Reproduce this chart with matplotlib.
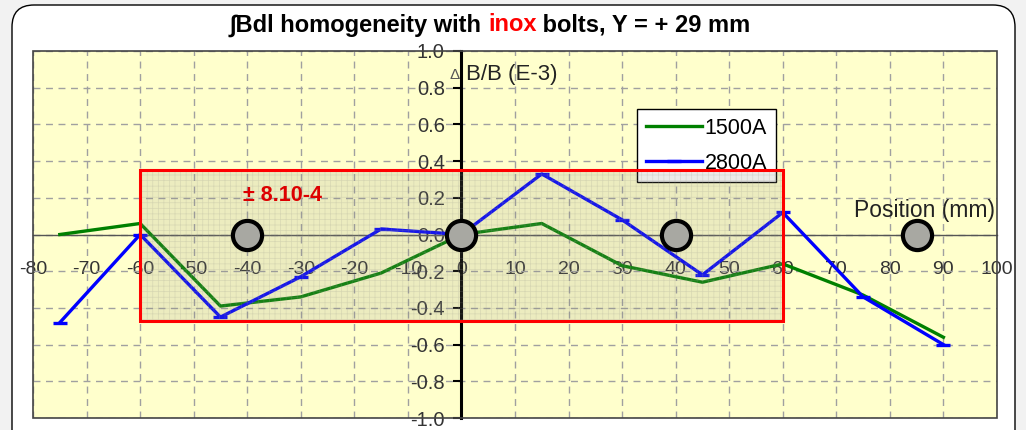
import matplotlib
matplotlib.use("Agg")
import matplotlib.pyplot as plt
from matplotlib.patches import Rectangle, FancyBboxPatch
from matplotlib.transforms import IdentityTransform

plt.rcParams['font.family'] = ['Liberation Sans', 'DejaVu Sans']
plt.rcParams['hatch.linewidth'] = 0.5

# data
position = [-75, -60, -45, -30, -15, 0, 15, 30, 45, 60, 75, 90]
b_1500 = [0.0, 0.06, -0.39, -0.34, -0.21, 0.0, 0.06, -0.17, -0.26, -0.16, -0.33, -0.56]
b_2800 = [-0.48, 0.0, -0.45, -0.23, 0.03, 0.0, 0.33, 0.08, -0.22, 0.12, -0.34, -0.60]
bolt_x = [-40, 0, 40, 85]
bolt_y = [0, 0, 0, 0]
box_x = [-60, 60]
box_y = [-0.47, 0.35]
x_ticks = list(range(-80, 101, 10))
y_ticks = [-1.0, -0.8, -0.6, -0.4, -0.2, 0.0, 0.2, 0.4, 0.6, 0.8, 1.0]

fig = plt.figure(figsize=(10.26, 4.3), dpi=100)
fig.patch.set_facecolor('#f2f2f2')

# rounded white chart area
frame = FancyBboxPatch((12, -30), 1003, 455, boxstyle='round,pad=0,rounding_size=22',
                       transform=IdentityTransform(), facecolor='white', edgecolor='black',
                       linewidth=1.0, zorder=-5)
fig.patches.append(frame)

ax = fig.add_axes([0.0322, 0.0279, 0.9395, 0.8535])
ax.set_facecolor('#ffffcc')
ax.set_xlim(-80, 100)
ax.set_ylim(-1, 1)

# axes crossing at zero
ax.spines['left'].set_position(('data', 0))
ax.spines['left'].set_linewidth(2.2)
ax.spines['left'].set_color('black')
ax.spines['bottom'].set_position(('data', 0))
ax.spines['bottom'].set_linewidth(1.0)
ax.spines['bottom'].set_color('#555555')
ax.spines['top'].set_visible(False)
ax.spines['right'].set_visible(False)
ax.add_patch(Rectangle((0, 0), 1, 1, transform=ax.transAxes, fill=False,
                       edgecolor='#444444', linewidth=1.2, clip_on=False, zorder=10))

ax.set_xticks(x_ticks)
ax.set_yticks(y_ticks)
ax.set_xticklabels([str(v) for v in x_ticks])
ax.set_yticklabels(['%.1f' % v for v in y_ticks])
ax.tick_params(axis='x', length=0, pad=19, labelsize=14, labelcolor='#333333')
ax.tick_params(axis='y', direction='out', length=6, width=1.5, pad=6, labelsize=14.5,
               labelcolor='#333333')
ax.grid(True, color='#a0a0a0', linestyle=(0, (5, 4)), linewidth=1.0, zorder=0)
ax.set_axisbelow(True)

ax.plot(position, b_1500, color='#008000', linewidth=2.4, label='1500A', zorder=3)
ax.plot(position, b_2800, color='#0000ff', linewidth=2.4, marker='_', markersize=10,
        markeredgewidth=2.4, label='2800A', zorder=3)

# tolerance box
ax.add_patch(Rectangle((box_x[0], box_y[0]), box_x[1] - box_x[0], box_y[1] - box_y[0],
                       facecolor=(0.55, 0.55, 0.5, 0.16), edgecolor=(0.6, 0.6, 0.55, 0.25),
                       linewidth=0, hatch='+++', zorder=6))
ax.add_patch(Rectangle((box_x[0], box_y[0]), box_x[1] - box_x[0], box_y[1] - box_y[0],
                       fill=False, edgecolor='#ff0000', linewidth=2.2, zorder=7))
ax.text(-33.5, 0.21, '± 8.10-4', color='#dd0000', fontsize=15.5, fontweight='bold',
        ha='center', va='center', zorder=8)

# bolts
ax.plot(bolt_x, bolt_y, linestyle='none', marker='o', markersize=21,
        markerfacecolor='#a8a8a2', markeredgecolor='black', markeredgewidth=3, zorder=8)

ax.text(-0.4, 0.87, 'Δ', fontsize=11, color='#555555', ha='right', va='center')
ax.text(0.9, 0.87, 'B/B (E-3)', fontsize=16, color='#222222', ha='left', va='center')
ax.text(73.3, 0.13, 'Position (mm)', fontsize=16.5, color='#222222', ha='left', va='center',
        zorder=8)

leg = ax.legend(loc='upper left', bbox_to_anchor=(0.6266, 0.842), fontsize=15.5,
                frameon=True, fancybox=False, edgecolor='black', facecolor='white',
                framealpha=1, handlelength=2.6, borderpad=0.4, labelspacing=0.65,
                handletextpad=0.15, borderaxespad=0)
leg.get_frame().set_linewidth(1.0)
leg.set_zorder(5)

# title with red word
parts = [('∫Bdl homogeneity with ', 'black'), ('inox', '#ff0000'),
         (' bolts, Y = + 29 mm', 'black')]
renderer = fig.canvas.get_renderer()
texts = []
total = 0
for s, c in parts:
    t = fig.text(0, 0.942, s, color=c, fontsize=17, fontweight='bold', va='center', ha='left')
    w = t.get_window_extent(renderer=renderer).width
    texts.append((t, w))
    total += w
x0 = 490 - total / 2
for t, w in texts:
    t.set_x(x0 / 1026)
    x0 += w

fig.savefig('out.png', dpi=100, facecolor=fig.get_facecolor())
